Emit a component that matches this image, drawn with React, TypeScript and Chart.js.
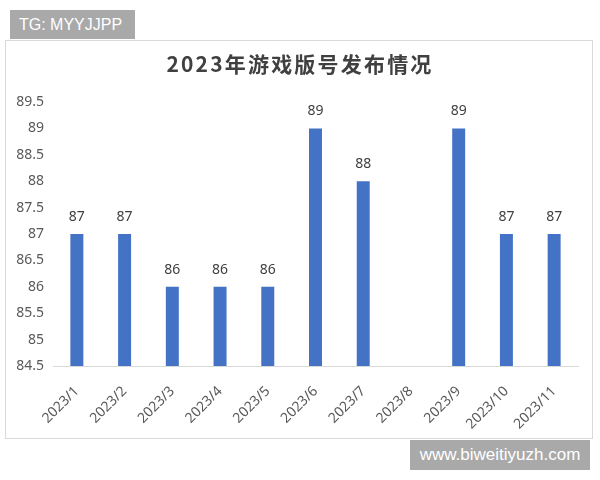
import React, { useEffect, useRef } from "react";
import { Chart, registerables } from "chart.js";

Chart.register(...registerables);

const titleText = "2023年游戏版号发布情况";
const categories = ["2023/1", "2023/2", "2023/3", "2023/4", "2023/5", "2023/6", "2023/7", "2023/8", "2023/9", "2023/10", "2023/11"];
const values: (number | null)[] = [87, 87, 86, 86, 86, 89, 88, null, 89, 87, 87];
const yMin = 84.5;
const yMax = 89.5;
const yStep = 0.5;
const watermarkTop = "TG: MYYJJPP";
const watermarkBottom = "www.biweitiyuzh.com";

const barLabels = {
  id: "barLabels",
  afterDatasetsDraw(chart: any) {
    const ctx = chart.ctx;
    const meta = chart.getDatasetMeta(0);
    ctx.save();
    ctx.fillStyle = "#404040";
    ctx.font = "14px 'Noto Sans', sans-serif";
    ctx.textAlign = "center";
    ctx.textBaseline = "bottom";
    meta.data.forEach((el: any, i: number) => {
      const v = values[i];
      if (v === null || v === undefined) return;
      ctx.fillText(String(v), el.x, el.y - 10);
    });
    ctx.restore();
  },
};

export default function App() {
  const ref = useRef<HTMLCanvasElement>(null);
  useEffect(() => {
    if (!ref.current) return;
    const chart = new Chart(ref.current, {
      type: "bar",
      data: {
        labels: categories,
        datasets: [
          {
            data: values,
            backgroundColor: "#4472C4",
            barPercentage: 0.34,
            categoryPercentage: 0.8,
          },
        ],
      },
      options: {
        responsive: false,
        animation: false,
        layout: { padding: { left: 0, right: 14, top: 61, bottom: 0 } },
        plugins: {
          legend: { display: false },
          tooltip: { enabled: false },
          title: { display: false },
        },
        scales: {
          x: {
            grid: { display: false, drawTicks: false },
            border: { display: true, color: "#d9d9d9", width: 1 },
            ticks: {
              color: "#595959",
              font: { size: 14, family: "'Noto Sans', sans-serif" },
              minRotation: 45,
              maxRotation: 45,
              padding: 17,
              autoSkip: false,
            },
            afterFit(scale: any) {
              scale.height = 72;
            },
          },
          y: {
            min: yMin,
            max: yMax,
            grid: { display: false, drawTicks: false },
            border: { display: false },
            ticks: {
              stepSize: yStep,
              color: "#595959",
              font: { size: 14, family: "'Noto Sans', sans-serif" },
              padding: 9,
              callback: (v: any) => String(v),
            },
            afterFit(scale: any) {
              scale.width = 47;
            },
          },
        },
      },
      plugins: [barLabels],
    });
    return () => chart.destroy();
  }, []);

  return (
    <div style={{ position: "fixed", left: 0, top: 0, width: 600, height: 480, background: "#ffffff", overflow: "hidden" }}>
      <div
        style={{
          position: "absolute",
          left: 5,
          top: 40,
          width: 586,
          height: 397,
          border: "1px solid #d9d9d9",
          background: "#ffffff",
        }}
      >
        <canvas ref={ref} width={586} height={397} style={{ display: "block" }} />
        <div
          style={{
            position: "absolute",
            left: 0,
            top: 7,
            width: 586,
            height: 30,
            lineHeight: "30px",
            textAlign: "center",
            fontFamily: "'Noto Sans CJK SC', sans-serif",
            fontWeight: "bold",
            fontSize: 21,
            letterSpacing: 2.2,
            color: "#404040",
            paddingLeft: 2,
            boxSizing: "border-box",
          }}
        >
          {titleText}
        </div>
      </div>
      <div
        style={{
          position: "absolute",
          left: 10,
          top: 10,
          width: 125,
          height: 29,
          background: "#a9a9a9",
          color: "#ffffff",
          fontFamily: "'Liberation Sans', Arial, sans-serif",
          fontSize: 16,
          lineHeight: "29px",
          paddingLeft: 9,
          boxSizing: "border-box",
          whiteSpace: "nowrap",
        }}
      >
        {watermarkTop}
      </div>
      <div
        style={{
          position: "absolute",
          left: 410,
          top: 440,
          width: 180,
          height: 30,
          background: "#a9a9a9",
          color: "#ffffff",
          fontFamily: "'Liberation Sans', Arial, sans-serif",
          fontSize: 17,
          lineHeight: "30px",
          textAlign: "center",
          boxSizing: "border-box",
          whiteSpace: "nowrap",
        }}
      >
        {watermarkBottom}
      </div>
    </div>
  );
}
